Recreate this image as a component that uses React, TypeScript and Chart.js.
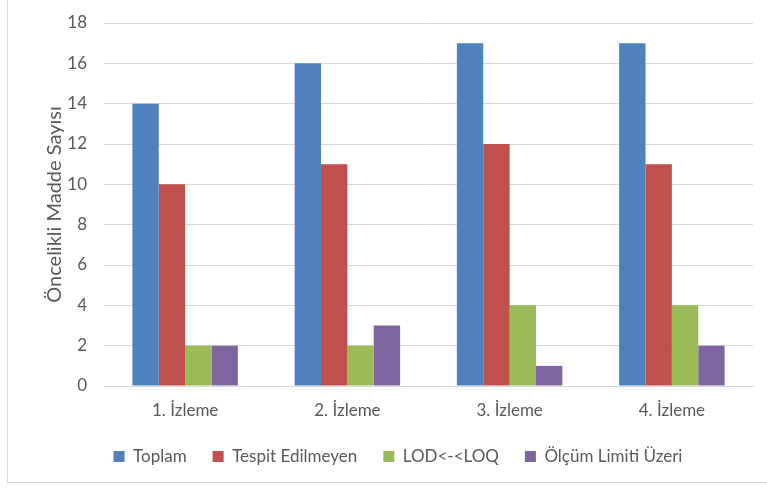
import React, { useEffect, useRef } from "react";
import { Chart, registerables } from "chart.js";

Chart.register(...registerables);

const categories = ["1. İzleme", "2. İzleme", "3. İzleme", "4. İzleme"];
const toplam = [14, 16, 17, 17];
const tespitEdilmeyen = [10, 11, 12, 11];
const lodLoq = [2, 2, 4, 4];
const olcumUzeri = [2, 3, 1, 2];
const seriesNames = ["Toplam", "Tespit Edilmeyen", "LOD<-<LOQ", "Ölçüm Limiti Üzeri"];
const colors = ["#4F81BD", "#C0504D", "#9BBB59", "#8064A2"];
const yTitle = "Öncelikli Madde Sayısı";

export default function App() {
  const ref = useRef<HTMLCanvasElement | null>(null);
  useEffect(() => {
    if (!ref.current) return;
    const font = { family: "Lato, 'Open Sans', sans-serif", size: 17 };
    const titleFont = { family: "Lato, 'Open Sans', sans-serif", size: 20 };
    const textColor = "#595959";
    const data = [toplam, tespitEdilmeyen, lodLoq, olcumUzeri];
    const chart = new Chart(ref.current, {
      type: "bar",
      data: {
        labels: categories,
        datasets: data.map((d, i) => ({
          label: seriesNames[i],
          data: d,
          backgroundColor: colors[i],
          borderWidth: 0,
          categoryPercentage: 0.65,
          barPercentage: 1,
        })),
      },
      options: {
        responsive: false,
        animation: false,
        layout: { padding: { left: 43, top: 23, right: 14, bottom: 13 } },
        plugins: {
          legend: {
            position: "bottom",
            labels: {
              boxWidth: 11,
              boxHeight: 11,
              padding: 26,
              color: textColor,
              font,
            },
          },
          tooltip: { enabled: false },
        },
        scales: {
          x: {
            grid: { display: false, drawTicks: false },
            border: { display: true, color: "#D9D9D9" },
            ticks: { color: textColor, font, padding: 14 },
            afterFit: (s: any) => {
              s.height = 36;
            },
          },
          y: {
            min: 0,
            max: 18,
            ticks: { stepSize: 2, color: textColor, font, padding: 17 },
            grid: { color: "#D9D9D9", drawTicks: false },
            border: { display: false },
            title: { display: true, text: yTitle, color: textColor, font: titleFont, padding: 0 },
            afterFit: (s: any) => {
              s.width = 61;
              s.paddingTop = 0;
              s.paddingBottom = 0;
            },
          },
        },
      },
    });
    return () => chart.destroy();
  }, []);
  return (
    <div style={{ position: "fixed", left: 0, top: 0, width: 767, height: 488, background: "#fff", overflow: "hidden" }}>
      <div
        style={{
          position: "absolute",
          left: 7,
          top: -2,
          width: 800,
          height: 485,
          border: "1px solid #D9D9D9",
          boxSizing: "border-box",
        }}
      />
      <canvas ref={ref} width={767} height={488} style={{ position: "absolute", left: 0, top: 0 }} />
    </div>
  );
}
